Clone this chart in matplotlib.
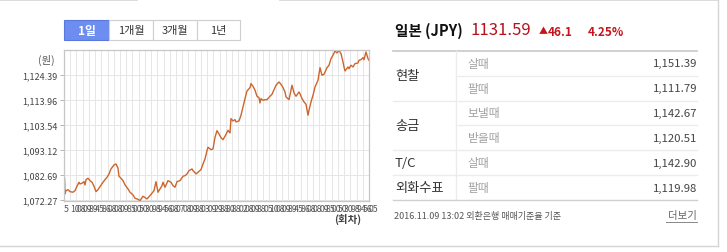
import matplotlib
matplotlib.use("Agg")
import matplotlib.pyplot as plt
from matplotlib.patches import Rectangle

plt.rcParams['font.family'] = ['Noto Sans CJK KR', 'DejaVu Sans']

# 회차 (round) and JPY rate
rounds = [0.6, 1, 2, 4, 6, 9, 11, 13, 15, 16, 18, 20, 21, 22, 24, 26, 28, 30, 32, 34,
          36, 39, 41, 43, 45, 47, 50, 52, 54, 55, 57, 59, 61, 64, 66, 69, 71, 74, 76, 79,
          83, 86, 90, 92, 94, 98, 99, 101, 104, 107, 109, 111, 113, 116, 119, 121, 123, 125, 128, 129,
          132, 134, 137, 139, 141, 143, 144, 147, 149, 151, 153, 155, 157, 159, 161, 164, 166, 167, 169, 171,
          172, 175, 177, 179, 181, 183, 186, 187, 189, 191, 193, 195, 196, 197, 199, 201, 203, 206, 208, 210,
          212, 215, 217, 219, 221, 222, 225, 227, 228, 230, 232, 235, 236, 238, 240, 242, 244, 245, 247, 249,
          251, 254, 256, 258, 260, 263, 265, 267, 269, 271, 273, 275, 277, 279, 280, 281, 284, 285, 287, 289,
          291, 294, 295, 297, 299, 300, 302, 304, 305]
rates = [1081.23, 1074.66, 1076.04, 1076.46, 1075.62, 1075.37, 1076.04, 1077.88, 1079.55, 1078.84,
         1079.13, 1079.80, 1078.42, 1080.64, 1081.23, 1080.22, 1079.55, 1077.88, 1075.62, 1076.46,
         1077.71, 1079.55, 1080.64, 1081.64, 1083.03, 1085.12, 1086.79, 1087.21, 1085.41, 1082.06,
         1081.23, 1080.22, 1078.42, 1076.75, 1075.37, 1074.24, 1072.86, 1072.40, 1071.85, 1073.69,
         1072.56, 1073.94, 1076.04, 1079.80, 1075.37, 1078.13, 1079.55, 1077.46, 1080.22, 1079.55,
         1078.13, 1077.46, 1079.80, 1080.22, 1082.06, 1082.31, 1083.03, 1084.41, 1085.12, 1084.41,
         1083.03, 1083.74, 1084.83, 1087.21, 1089.30, 1092.78, 1094.20, 1093.20, 1093.49, 1098.38,
         1101.15, 1099.77, 1098.22, 1097.38, 1098.80, 1101.31, 1100.18, 1106.17, 1105.21, 1105.75,
         1104.79, 1105.21, 1107.59, 1111.06, 1114.54, 1117.76, 1119.14, 1120.82, 1119.73, 1118.05,
         1115.54, 1114.96, 1112.74, 1114.54, 1113.87, 1114.12, 1114.12, 1115.54, 1116.38, 1118.31,
         1120.15, 1121.53, 1120.56, 1119.14, 1117.34, 1115.25, 1114.12, 1118.05, 1120.15, 1116.92,
         1115.54, 1117.34, 1116.63, 1114.54, 1113.16, 1112.19, 1107.59, 1109.68, 1113.16, 1115.96,
         1119.43, 1122.24, 1127.51, 1124.33, 1124.75, 1127.51, 1128.52, 1131.28, 1132.70, 1134.50,
         1133.66, 1134.79, 1133.37, 1129.90, 1127.80, 1126.13, 1127.80, 1127.09, 1128.52, 1127.80,
         1129.19, 1129.48, 1130.61, 1130.86, 1131.70, 1130.86, 1134.08, 1131.28, 1130.61]

yticks = [1072.27, 1082.69, 1093.12, 1103.54, 1113.96, 1124.39]
xtick_labels = ["5", "10", "08", "09", "89", "45", "86", "08", "08", "09",
                "85", "00", "50", "30", "98", "94", "56", "08", "07", "08",
                "09", "88", "03", "09", "29", "88", "80", "88", "02", "08",
                "09", "88", "05", "10", "08", "09", "89", "45", "86", "08",
                "08", "09", "85", "00", "50", "30", "98", "94", "56", "05"]
periods = ["1일", "1개월", "3개월", "1년"]

# right-hand table
categories = ["현찰", "송금", "T/C", "외화수표"]
cat_spans = [2, 2, 1, 1]
sub_labels = ["살때", "팔때", "보낼때", "받을때", "살때", "팔때"]
sub_values = ["1,151.39", "1,111.79", "1,142.67", "1,120.51", "1,142.90", "1,119.98"]

W, H = 727, 253
fig = plt.figure(figsize=(W / 100, H / 100), dpi=100)
fig.patch.set_facecolor('white')

# overlay in pixel coords for the page furniture
bg = fig.add_axes([0, 0, 1, 1])
bg.set_xlim(0, W)
bg.set_ylim(H, 0)
bg.axis('off')

# panel border
bg.plot([0, 137], [0.6, 0.6], color='#d4d4d4', lw=1.2)
bg.plot([280, 717.5], [0.6, 0.6], color='#d4d4d4', lw=1.2)
bg.plot([717.5, 717.5], [0, 247], color='#d4d4d4', lw=1)
bg.plot([0, 717.5], [247, 247], color='#d4d4d4', lw=1)

# period buttons
edges = [64, 109, 153, 197, 240]
for i, lab in enumerate(periods):
    x0, x1 = edges[i], edges[i + 1]
    if i == 0:
        bg.add_patch(Rectangle((x0, 21), x1 - x0, 20, facecolor='#6d8ef0',
                               edgecolor='#5a79dc', lw=0.8))
        bg.text((x0 + x1) / 2, 31, lab, color='white', fontsize=8.5,
                fontweight='bold', ha='center', va='center')
    else:
        bg.add_patch(Rectangle((x0, 21), x1 - x0, 20, facecolor='white',
                               edgecolor='#cfcfcf', lw=0.8))
        bg.text((x0 + x1) / 2, 31, lab, color='#333333', fontsize=8,
                ha='center', va='center')

bg.text(46, 60, "(원)", fontsize=7.5, color='#555555', ha='center', va='center')
bg.text(348, 219.5, "(회차)", fontsize=7.5, color='#444444', ha='center', va='center',
        fontweight='bold')

# title line
bg.text(395, 31, "일본 (JPY)", fontsize=10.5, color='#111111', ha='left', va='center',
        fontweight='bold')
bg.text(470, 30.5, "1131.59", fontsize=12, color='#b5121b', ha='left', va='center')
bg.text(539, 32, "▲", fontsize=6.5, color='#c4161c', ha='left', va='center')
bg.text(548, 32, "46.1", fontsize=8.5, color='#c4161c', ha='left', va='center',
        fontweight='bold')
bg.text(588, 32, "4.25%", fontsize=8.5, color='#c4161c', ha='left', va='center',
        fontweight='bold')

# table
row_h = 24.9
top = 51.7
bg.plot([393, 697], [top, top], color='#c8c8c8', lw=1.2)
bg.plot([456, 456], [top, 201], color='#ececec', lw=1)
r = 0
for cat, span in zip(categories, cat_spans):
    yc = top + (r + span / 2) * row_h
    bg.text(395, yc, cat, fontsize=9.5, color='#333333', ha='left', va='center')
    for k in range(span):
        yr = top + (r + k + 0.5) * row_h
        bg.text(467.5, yr, sub_labels[r + k], fontsize=8.5, color='#a0a0a0',
                ha='left', va='center')
        bg.text(697, yr, sub_values[r + k], fontsize=8.2, color='#444444',
                ha='right', va='center')
        if k < span - 1:
            yl = top + (r + k + 1) * row_h
            bg.plot([456, 697], [yl, yl], color='#ececec', lw=1)
    r += span
    yl = top + r * row_h
    if r < len(sub_labels):
        bg.plot([393, 697], [yl, yl], color='#ececec', lw=1)
bg.plot([393, 697], [201, 201], color='#d0d0d0', lw=1)

bg.text(394, 216, "2016.11.09 13:02 외환은행 매매기준율 기준", fontsize=6.5,
        color='#555555', ha='left', va='center')
bg.text(697, 216, "더보기", fontsize=7.5, color='#666666', ha='right', va='center')
bg.plot([666, 697], [222.5, 222.5], color='#888888', lw=0.7)

# the chart itself
ax = fig.add_axes([64 / W, (H - 202) / H, 305 / W, 151 / H])
ax.plot(rounds, rates, color='#cc652c', lw=1.0)
ax.set_xlim(0, 305)
ax.set_ylim(1071.7, 1134.9)
ax.set_yticks(yticks)
ax.set_yticklabels([f"{v:,.2f}" for v in yticks])
xt = [i * 305 / 49 for i in range(50)]
ax.set_xticks(xt)
ax.set_xticklabels(xtick_labels, ha='left')
ax.tick_params(axis='y', length=3, width=0.6, color='#aaaaaa', pad=1.5,
               labelsize=6.5, labelcolor='#444444')
ax.tick_params(axis='x', length=0, pad=2.5, labelsize=6.3, labelcolor='#555555')
ax.grid(True, color='#e6e6e6', lw=0.7)
ax.set_axisbelow(True)
for s in ax.spines.values():
    s.set_color('#c6c6c6')
    s.set_linewidth(0.9)

fig.savefig('out.png', dpi=100, facecolor='white')
